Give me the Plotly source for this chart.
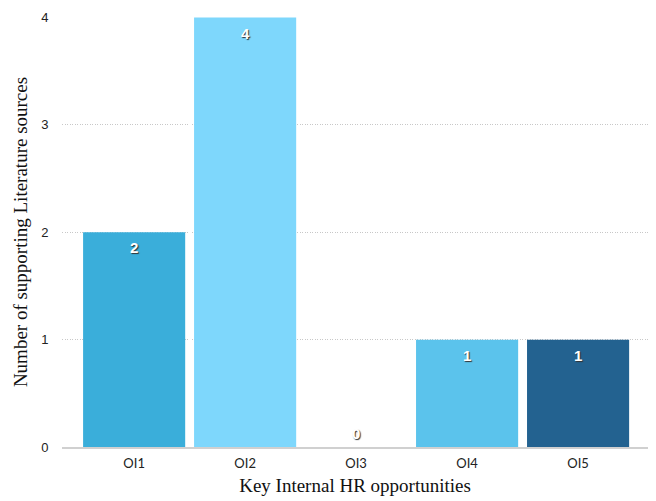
import plotly.graph_objects as go

# Key internal HR opportunities and the number of literature sources supporting each
categories = ["OI1", "OI2", "OI3", "OI4", "OI5"]
source_counts = [2, 4, 0, 1, 1]
bar_colors = ["#3AAEDA", "#7ED7FC", "#9ADFFB", "#5BC3EC", "#236290"]
y_ticks = [0, 1, 2, 3, 4]

fig = go.Figure(
    go.Bar(
        x=categories,
        y=source_counts,
        marker=dict(color=bar_colors, line=dict(width=0)),
        hoverinfo="x+y",
    )
)

# Value labels just below the top of each bar (or just above the baseline
# for empty bars), white with a dark shadow
for cat, val in zip(categories, source_counts):
    fig.add_annotation(
        x=cat, y=val, text=str(val), showarrow=False,
        yanchor="top" if val > 0 else "bottom",
        yshift=-5 if val > 0 else 3,
        font=dict(family="Liberation Sans, Arial", size=15, color="white",
                  weight="bold", shadow="1px 1px 1px #333"),
    )

fig.update_layout(
    width=656, height=501,
    margin=dict(l=62, r=8, t=17, b=54),
    paper_bgcolor="white", plot_bgcolor="white",
    bargap=0.08,
    showlegend=False,
    xaxis=dict(
        range=[-0.65, 4.63],
        showgrid=False,
        showline=True, linecolor="#d0d0d0", linewidth=1.5,
        ticks="outside", ticklen=4, tickcolor="rgba(0,0,0,0)",
        tickfont=dict(family="Lato, Liberation Sans", size=13, color="#222"),
        title=dict(text="Key Internal HR opportunities", standoff=8,
                   font=dict(family="Liberation Serif, Times New Roman", size=19, color="#111")),
    ),
    yaxis=dict(
        range=[0, 4.005],
        tickvals=y_ticks,
        showgrid=True, gridcolor="#c8c8c8", griddash="1px,1.5px", gridwidth=1,
        zeroline=False, showline=False,
        ticks="outside", ticklen=10, tickcolor="rgba(0,0,0,0)",
        tickfont=dict(family="Liberation Sans, Arial", size=13, color="#222"),
        title=dict(text="Number of supporting Literature sources", standoff=8,
                   font=dict(family="Liberation Serif, Times New Roman", size=19, color="#111")),
    ),
)

fig.write_html("out.html")
